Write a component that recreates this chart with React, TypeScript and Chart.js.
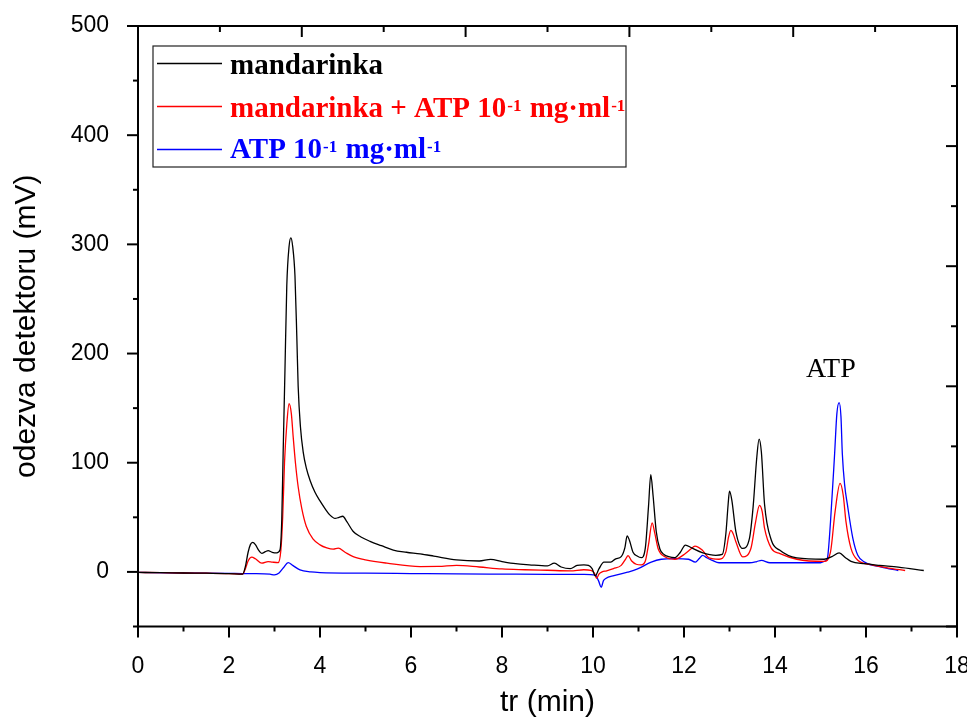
import React, { useEffect, useRef } from "react";
import { Chart, registerables } from "chart.js";

Chart.register(...registerables);

// ---- tick labels ----
const xTicks = [0, 2, 4, 6, 8, 10, 12, 14, 16, 18];
const yTicks = [0, 100, 200, 300, 400, 500];

// ---- series: mandarinka (black) ----
const mandarinkaX = [0, 0.5, 1, 1.5, 2, 2.3, 2.36, 2.42, 2.47, 2.52, 2.58, 2.65, 2.72, 2.8, 2.86, 2.95, 3.05, 3.12, 3.16, 3.19, 3.23, 3.27, 3.32, 3.36, 3.4, 3.45, 3.49, 3.52, 3.57, 3.63, 3.7, 3.78, 3.89, 4.0, 4.11, 4.22, 4.33, 4.42, 4.5, 4.59, 4.73, 4.9, 5.1, 5.35, 5.61, 5.9, 6.2, 6.5, 7.0, 7.5, 7.75, 8.0, 8.3, 8.6, 9.0, 9.15, 9.3, 9.5, 9.65, 9.8, 9.9, 9.98, 10.05, 10.13, 10.24, 10.39, 10.5, 10.62, 10.7, 10.75, 10.8, 10.88, 10.97, 11.06, 11.15, 11.22, 11.27, 11.32, 11.39, 11.47, 11.56, 11.66, 11.8, 11.92, 12.03, 12.17, 12.4, 12.7, 12.84, 12.92, 12.97, 13.0, 13.05, 13.14, 13.29, 13.44, 13.52, 13.6, 13.65, 13.7, 13.77, 13.92, 14.1, 14.48, 15.08, 15.25, 15.41, 15.55, 15.67, 15.97, 16.3, 16.71, 17.27];
const mandarinkaY = [-0.5, -0.7, -1, -1.2, -1.5, -2, 5, 18, 25, 27, 25, 20, 17, 18.5, 19.5, 18, 17.5, 20, 48, 109, 185, 262, 298, 306, 298, 271, 216, 170, 133, 110, 95, 84, 73, 65, 58, 52, 49, 50, 51, 46, 37, 32, 28, 24, 20, 18, 16.5, 14.5, 11, 10, 11.5, 9.5, 7.5, 6.5, 5.5, 8, 4.5, 3, 6, 6.5, 6, 3, -3.5, 2.7, 9, 9, 12, 14, 22, 33, 29, 18, 14.5, 13, 22, 60, 89, 70, 37, 21, 16, 14, 13, 18, 24.6, 22, 17.7, 15.2, 16, 35, 62, 74, 66, 37, 21.5, 31, 60, 105, 121.7, 110, 62, 29, 20, 12.8, 11.6, 14, 17.4, 13, 9.6, 7.5, 6, 4.4, 1.3];

// ---- series: mandarinka + ATP (red) ----
const mixX = [0, 0.5, 1, 1.5, 2, 2.3, 2.36, 2.42, 2.5, 2.58, 2.72, 2.86, 2.95, 3.08, 3.14, 3.18, 3.22, 3.27, 3.32, 3.37, 3.41, 3.46, 3.52, 3.6, 3.7, 3.85, 4.0, 4.15, 4.29, 4.4, 4.55, 4.73, 5.0, 5.47, 6.2, 6.6, 7.0, 7.5, 8.0, 8.5, 9.0, 9.5, 9.8, 9.95, 10.03, 10.08, 10.13, 10.2, 10.3, 10.45, 10.62, 10.72, 10.77, 10.85, 10.95, 11.06, 11.15, 11.22, 11.3, 11.36, 11.43, 11.58, 11.8, 12.03, 12.15, 12.24, 12.4, 12.55, 12.77, 12.92, 12.98, 13.03, 13.08, 13.14, 13.29, 13.47, 13.57, 13.66, 13.72, 13.77, 13.92, 14.11, 14.48, 15.08, 15.22, 15.32, 15.43, 15.5, 15.56, 15.67, 15.82, 16.11, 16.5, 16.86];
const mixY = [-0.5, -0.7, -1, -1.2, -1.5, -2, 3, 10, 13.5, 12, 8, 9.5, 9, 8.5, 20, 50, 100, 135, 154, 145, 124, 100, 78, 58, 41.6, 30, 24.8, 22, 20.8, 21.7, 18, 14, 11, 8, 4.9, 5, 6, 4.5, 2.7, 2, 1.5, 1, 2, 1.5, -1, -6, -2, 0, 1, 3, 6, 12, 15, 10, 7, 6.4, 10, 25, 45, 35, 21.5, 13.8, 11.6, 16.8, 21, 23.7, 20, 12.8, 11.6, 18.3, 32, 38, 35, 27.7, 13.8, 21.5, 45, 61, 55, 40, 21.5, 16.8, 11.6, 9.6, 18.3, 55, 81, 70, 46, 21.5, 10.6, 6.6, 3.5, 1.3];

// ---- series: ATP (blue) ----
const atpX = [0, 1, 2, 2.3, 2.6, 2.9, 3.0, 3.1, 3.2, 3.3, 3.4, 3.56, 3.8, 4.0, 5, 6, 7, 8, 9, 9.8, 10.05, 10.12, 10.18, 10.23, 10.28, 10.46, 10.76, 10.98, 11.28, 11.5, 11.8, 12.1, 12.25, 12.33, 12.41, 12.5, 12.62, 12.77, 13.44, 13.6, 13.7, 13.89, 15.0, 15.1, 15.15, 15.22, 15.31, 15.36, 15.41, 15.45, 15.48, 15.53, 15.59, 15.71, 15.82, 15.97, 16.34, 16.71];
const atpY = [-0.5, -1, -1.3, -1.5, -1.5, -2, -2.8, -1, 4, 8.5, 6, 1.8, 0, -0.6, -1.2, -1.5, -1.8, -2, -2.2, -2.3, -3, -8, -14, -8, -6, -3.4, -0.3, 2.7, 9, 11.6, 12.2, 11.6, 9, 12, 15.2, 13, 10.6, 8.4, 8.4, 9.5, 10.6, 8.4, 8.4, 10, 12.2, 46, 108, 145, 155, 142, 108, 80, 62, 31, 15.2, 9, 4.4, 1.3];

const seriesColors = ["#000000", "#ff0000", "#0000ff"];

// legend entries (text segments, superscript flag)
const legendEntries: { t: string; sup: boolean }[][] = [
  [{ t: "mandarinka", sup: false }],
  [
    { t: "mandarinka + ATP 10", sup: false },
    { t: "-1", sup: true },
    { t: " mg·ml", sup: false },
    { t: "-1", sup: true },
  ],
  [
    { t: "ATP 10", sup: false },
    { t: "-1", sup: true },
    { t: " mg·ml", sup: false },
    { t: "-1", sup: true },
  ],
];

const annotationText = "ATP";

function toPoints(xs: number[], ys: number[]) {
  return xs.map((x, i) => ({ x, y: ys[i] }));
}

const framePlugin = {
  id: "framePlugin",
  afterDraw(chart: any) {
    const ctx = chart.ctx as CanvasRenderingContext2D;
    const { left, right, top, bottom } = chart.chartArea;
    const xs = chart.scales.x;
    const ys = chart.scales.y;
    ctx.save();
    ctx.strokeStyle = "#000";
    ctx.lineWidth = 2;
    ctx.strokeRect(left, top, right - left, bottom - top);
    const line = (x1: number, y1: number, x2: number, y2: number) => {
      ctx.beginPath();
      ctx.moveTo(x1, y1);
      ctx.lineTo(x2, y2);
      ctx.stroke();
    };
    // bottom ticks (outward)
    for (let v = 0; v <= 18; v++) {
      const px = xs.getPixelForValue(v);
      line(px, bottom, px, bottom + (v % 2 === 0 ? 11 : 5));
    }
    // left ticks (outward)
    for (let v = -50; v <= 500; v += 50) {
      const py = ys.getPixelForValue(v);
      line(left - (v % 100 === 0 ? 11 : 5), py, left, py);
    }
    // top ticks (inward)
    for (let k = 0; k <= 10; k++) {
      const px = left + (k * (right - left)) / 10;
      line(px, top, px, top + (k % 2 === 0 ? 11 : 6));
    }
    // right ticks (inward)
    for (let k = 0; k <= 10; k++) {
      const py = bottom - (k * (bottom - top)) / 10;
      line(right - (k % 2 === 0 ? 11 : 6), py, right, py);
    }

    // legend box
    ctx.lineWidth = 1.2;
    ctx.strokeStyle = "#222";
    ctx.fillStyle = "#fff";
    ctx.fillRect(153, 46, 473, 121);
    ctx.strokeRect(153, 46, 473, 121);
    const lineYs = [63.5, 106.5, 149.5];
    const baseYs = [73.5, 116.5, 158];
    legendEntries.forEach((segs, i) => {
      ctx.strokeStyle = seriesColors[i];
      ctx.lineWidth = 1.3;
      line(157, lineYs[i], 222, lineYs[i]);
      ctx.fillStyle = seriesColors[i];
      ctx.textBaseline = "alphabetic";
      ctx.textAlign = "left";
      let x = 230;
      segs.forEach((s) => {
        if (s.sup) {
          ctx.font = "bold 17px 'Liberation Serif', 'Times New Roman', serif";
          ctx.fillText(s.t, x + 1, baseYs[i] - 6);
          x += ctx.measureText(s.t).width + 2;
        } else {
          ctx.font = "bold 29px 'Liberation Serif', 'Times New Roman', serif";
          ctx.fillText(s.t, x, baseYs[i]);
          x += ctx.measureText(s.t).width;
        }
      });
    });

    // annotation
    ctx.fillStyle = "#000";
    ctx.font = "28px 'Liberation Serif', 'Times New Roman', serif";
    ctx.textAlign = "left";
    ctx.textBaseline = "alphabetic";
    ctx.fillText(annotationText, 806, 377);
    ctx.restore();
  },
};

export default function App() {
  const ref = useRef<HTMLCanvasElement>(null);
  useEffect(() => {
    const canvas = ref.current;
    if (!canvas) return;
    const common = {
      pointRadius: 0,
      borderWidth: 1.3,
      fill: false,
      cubicInterpolationMode: "monotone" as const,
    };
    const zeroPad = (s: any) => {
      s.paddingLeft = 0;
      s.paddingRight = 0;
      s.paddingTop = 0;
      s.paddingBottom = 0;
    };
    const chart = new Chart(canvas, {
      type: "line",
      data: {
        datasets: [
          { label: "mandarinka", data: toPoints(mandarinkaX, mandarinkaY), borderColor: seriesColors[0], ...common },
          { label: "mandarinka + ATP", data: toPoints(mixX, mixY), borderColor: seriesColors[1], ...common },
          { label: "ATP", data: toPoints(atpX, atpY), borderColor: seriesColors[2], ...common },
        ],
      },
      options: {
        animation: false,
        responsive: false,
        devicePixelRatio: 1,
        layout: { padding: { top: 26, right: 10, bottom: 0, left: 0 } },
        plugins: { legend: { display: false }, tooltip: { enabled: false } },
        scales: {
          x: {
            type: "linear",
            min: 0,
            max: 18,
            afterBuildTicks: (s: any) => {
              s.ticks = xTicks.map((v) => ({ value: v }));
            },
            afterFit: (s: any) => {
              s.height = 90.5;
              zeroPad(s);
            },
            grid: { display: false },
            border: { display: false },
            ticks: {
              font: { family: "'Liberation Sans', Arial, sans-serif", size: 23 },
              color: "#000",
              padding: 18,
              maxRotation: 0,
              autoSkip: false,
            },
            title: {
              display: true,
              text: "tr (min)",
              color: "#000",
              font: { family: "'Liberation Sans', Arial, sans-serif", size: 30, lineHeight: 1 },
              padding: { top: 0, bottom: -1 },
            },
          },
          y: {
            type: "linear",
            min: -50,
            max: 500,
            afterBuildTicks: (s: any) => {
              s.ticks = yTicks.map((v) => ({ value: v }));
            },
            afterFit: (s: any) => {
              s.width = 138;
              zeroPad(s);
            },
            grid: { display: false },
            border: { display: false },
            ticks: {
              font: { family: "'Liberation Sans', Arial, sans-serif", size: 23 },
              color: "#000",
              padding: 21,
              autoSkip: false,
            },
            title: {
              display: true,
              text: "odezva detektoru (mV)",
              color: "#000",
              font: { family: "'Liberation Sans', Arial, sans-serif", size: 30, lineHeight: 1 },
              padding: { top: 12, bottom: 0 },
            },
          },
        },
      },
      plugins: [framePlugin],
    });
    return () => chart.destroy();
  }, []);
  return (
    <div style={{ position: "absolute", left: 0, top: 0, width: 967, height: 717, background: "#fff" }}>
      <canvas ref={ref} width={967} height={717} style={{ display: "block", width: 967, height: 717 }} />
    </div>
  );
}
